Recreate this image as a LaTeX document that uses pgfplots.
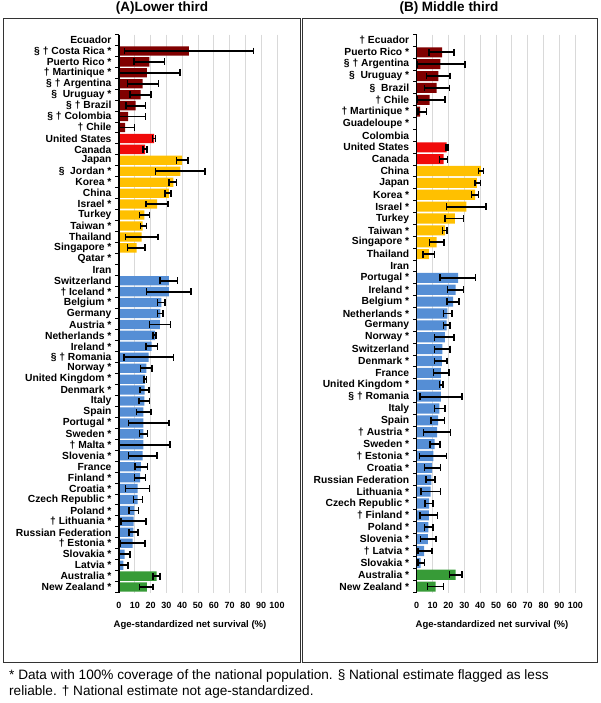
\documentclass[border=0pt]{standalone}
\usepackage{fontspec}
\setmainfont{Liberation Sans}
\usepackage{pgfplots}
\usepackage{pgfplotstable}
\pgfplotsset{compat=1.18}
\definecolor{cdr}{RGB}{128,0,0}
\definecolor{cred}{RGB}{240,10,10}
\definecolor{cyel}{RGB}{255,192,0}
\definecolor{cblue}{RGB}{85,142,213}
\definecolor{cgreen}{RGB}{55,155,55}
\definecolor{cgrid}{RGB}{217,217,217}

% Lower third (A)
\pgfplotstableread{
p v lo hi
2 44.3 3.4 85.0
3 19.2 9.5 28.7
4 17.7 0.0 38.6
5 15.0 5.3 25.1
6 13.7 7.0 20.3
7 10.5 4.4 16.7
8 5.7 0.0 16.7
9 3.8 0.0 9.9
}\tLdr
\pgfplotstableread{
p v lo hi
10 22.2 21.1 23.0
11 16.5 15.0 17.7
}\tLred
\pgfplotstableread{
p v lo hi
12 39.9 36.5 43.5
13 38.8 23.0 54.6
14 34.4 31.6 36.5
15 31.6 29.1 33.0
16 24.1 16.9 31.0
17 16.0 12.9 19.2
18 15.0 13.7 17.5
19 14.3 4.0 24.5
20 11.2 5.5 16.5
}\tLyel
\pgfplotstableread{
p v lo hi
23 31.6 25.9 37.1
24 31.6 17.5 45.4
25 26.8 24.3 29.3
26 26.2 24.3 27.8
27 25.9 19.2 32.5
28 22.8 21.5 23.6
29 20.7 17.1 24.3
30 18.8 3.0 34.6
31 17.3 13.7 21.0
32 16.5 15.8 17.3
33 16.2 13.3 18.8
34 16.0 12.7 19.4
35 15.4 11.2 20.3
36 15.4 6.1 31.8
37 15.4 12.9 18.1
38 15.4 0.0 32.1
39 15.0 6.1 24.1
40 13.9 10.1 18.1
41 13.3 9.7 16.7
42 11.8 4.2 19.2
43 11.8 9.3 14.8
44 9.7 6.3 12.4
45 9.3 1.1 16.9
46 9.1 6.3 12.0
47 8.6 0.8 16.5
48 3.6 0.0 7.0
49 2.7 0.4 5.7
}\tLblue
\pgfplotstableread{
p v lo hi
50 23.8 21.5 25.9
51 17.7 12.9 21.5
}\tLgreen

% Middle third (B)
\pgfplotstableread{
p v lo hi
2 16.0 7.6 23.7
3 14.9 0.4 30.3
4 13.7 6.3 21.0
5 12.6 4.8 20.6
6 8.2 0.4 17.9
7 2.1 1.0 6.3
}\tRdr
\pgfplotstableread{
p v lo hi
10 18.9 18.3 19.8
11 17.0 14.3 19.5
}\tRred
\pgfplotstableread{
p v lo hi
12 40.4 38.9 42.0
13 38.0 36.8 40.1
14 36.8 34.5 38.9
15 31.3 18.9 43.7
16 24.0 17.9 29.6
17 17.9 16.2 19.1
18 12.6 8.0 17.2
19 7.6 3.8 11.1
}\tRyel
\pgfplotstableread{
p v lo hi
21 26.1 14.7 37.0
22 24.6 19.3 29.6
23 22.9 19.1 26.5
24 19.3 17.0 22.1
25 18.9 16.8 21.0
26 17.7 11.1 23.7
27 16.2 11.1 21.0
28 15.8 11.3 19.1
29 15.3 10.5 20.4
30 15.3 14.3 16.4
31 15.3 2.1 28.4
32 14.3 11.1 17.7
33 13.5 9.0 17.4
34 12.8 4.2 21.4
35 11.3 8.4 14.7
36 10.5 1.7 18.9
37 9.7 4.8 14.9
38 9.2 5.9 11.6
39 8.8 2.7 14.9
40 7.8 5.3 10.3
41 7.6 2.1 13.0
42 7.4 5.0 10.1
43 7.1 2.5 12.0
44 4.6 1.0 9.5
45 2.5 1.0 5.0
}\tRblue
\pgfplotstableread{
p v lo hi
46 24.6 20.8 28.4
47 12.0 6.9 17.0
}\tRgreen

\pgfplotsset{
  survaxis/.style={
    scale only axis,
    height=558pt,
    xmin=0, xmax=100,
    y dir=reverse,
    axis line style={draw=none},
    xtick={0,10,...,100},
    xtick pos=bottom, ytick pos=left,
    major tick length=0pt,
    minor tick length=3.5pt,
    tick align=outside,
    minor tick style={line width=1pt, black},
    xmajorgrids,
    major x grid style={draw=cgrid, line width=1pt},
    /pgf/number format/assume math mode=true,
    xticklabel style={font=\bfseries\fontsize{9}{9}\selectfont, yshift=-6pt},
    yticklabel style={font=\bfseries\fontsize{10.3}{10.3}\selectfont, xshift=-4pt},
    clip=false,
  },
  survbar/.style={
    xbar, bar shift=0pt, bar width=0.85, draw=none, fill=#1,
    error bars/.cd, x dir=both, x explicit,
    error mark=|,
    error bar style={draw=black, line width=1.8pt, solid},
    error mark options={draw=black, line width=1.6pt, mark size=3.4pt, solid},
  },
}

\begin{document}
\begin{tikzpicture}[x=1pt,y=1pt]
\path[use as bounding box] (0,0) rectangle (600,-703);
\draw[line width=1pt, black!80] (3,-19) rectangle (300,-662);
\draw[line width=1pt, black!80] (302,-19) rectangle (597,-662);
\node at (162,-8) {\bfseries\fontsize{13.5}{14}\selectfont (A)Lower third};
\node at (449,-8) {\bfseries\fontsize{13.5}{14}\selectfont (B) Middle third};

\begin{axis}[survaxis,
  at={(119pt,-592.5pt)}, anchor=south west,
  width=158pt,
  ymin=0.5, ymax=51.5,
  ytick={1,...,51},
  minor ytick={0.5,1.5,...,51.5},
  yticklabels={{Ecuador},{§ † Costa Rica *},{Puerto Rico *},{† Martinique *},{§ † Argentina},{§\ \ Uruguay *},{§ † Brazil},{§ † Colombia},{† Chile},{United States},{Canada},{Japan},{§\ \ Jordan *},{Korea *},{China},{Israel *},{Turkey},{Taiwan *},{Thailand},{Singapore *},{Qatar *},{Iran},{Switzerland},{† Iceland *},{Belgium *},{Germany},{Austria *},{Netherlands *},{Ireland *},{§ † Romania},{Norway *},{United Kingdom *},{Denmark *},{Italy},{Spain},{Portugal *},{Sweden *},{† Malta *},{Slovenia *},{France},{Finland *},{Croatia *},{Czech Republic *},{Poland *},{† Lithuania *},{Russian Federation},{† Estonia *},{Slovakia *},{Latvia *},{Australia *},{New Zealand *}},
]
\addplot[survbar=cdr] table[x=v, y=p, x error minus expr=\thisrow{v}-\thisrow{lo}, x error plus expr=\thisrow{hi}-\thisrow{v}] {\tLdr};
\addplot[survbar=cred] table[x=v, y=p, x error minus expr=\thisrow{v}-\thisrow{lo}, x error plus expr=\thisrow{hi}-\thisrow{v}] {\tLred};
\addplot[survbar=cyel] table[x=v, y=p, x error minus expr=\thisrow{v}-\thisrow{lo}, x error plus expr=\thisrow{hi}-\thisrow{v}] {\tLyel};
\addplot[survbar=cblue] table[x=v, y=p, x error minus expr=\thisrow{v}-\thisrow{lo}, x error plus expr=\thisrow{hi}-\thisrow{v}] {\tLblue};
\addplot[survbar=cgreen] table[x=v, y=p, x error minus expr=\thisrow{v}-\thisrow{lo}, x error plus expr=\thisrow{hi}-\thisrow{v}] {\tLgreen};
\draw[line width=1.2pt] (rel axis cs:0,0) -- (rel axis cs:0,1);
\end{axis}

\begin{axis}[survaxis,
  at={(416.7pt,-592.5pt)}, anchor=south west,
  width=158.6pt,
  ymin=0.5, ymax=47.5,
  ytick={1,...,47},
  minor ytick={0.5,1.5,...,47.5},
  yticklabels={{† Ecuador},{Puerto Rico *},{§ † Argentina},{§\ \ Uruguay *},{§\ \ Brazil},{† Chile},{† Martinique *},{Guadeloupe *},{Colombia},{United States},{Canada},{China},{Japan},{Korea *},{Israel *},{Turkey},{Taiwan *},{Singapore *},{Thailand},{Iran},{Portugal *},{Ireland *},{Belgium *},{Netherlands *},{Germany},{Norway *},{Switzerland},{Denmark *},{France},{United Kingdom *},{§ † Romania},{Italy},{Spain},{† Austria *},{Sweden *},{† Estonia *},{Croatia *},{Russian Federation},{Lithuania *},{Czech Republic *},{† Finland *},{Poland *},{Slovenia *},{† Latvia *},{Slovakia *},{Australia *},{New Zealand *}},
]
\addplot[survbar=cdr] table[x=v, y=p, x error minus expr=\thisrow{v}-\thisrow{lo}, x error plus expr=\thisrow{hi}-\thisrow{v}] {\tRdr};
\addplot[survbar=cred] table[x=v, y=p, x error minus expr=\thisrow{v}-\thisrow{lo}, x error plus expr=\thisrow{hi}-\thisrow{v}] {\tRred};
\addplot[survbar=cyel] table[x=v, y=p, x error minus expr=\thisrow{v}-\thisrow{lo}, x error plus expr=\thisrow{hi}-\thisrow{v}] {\tRyel};
\addplot[survbar=cblue] table[x=v, y=p, x error minus expr=\thisrow{v}-\thisrow{lo}, x error plus expr=\thisrow{hi}-\thisrow{v}] {\tRblue};
\addplot[survbar=cgreen] table[x=v, y=p, x error minus expr=\thisrow{v}-\thisrow{lo}, x error plus expr=\thisrow{hi}-\thisrow{v}] {\tRgreen};
\draw[line width=1.2pt] (rel axis cs:0,0) -- (rel axis cs:0,1);
\end{axis}

\node[font=\bfseries\fontsize{9.5}{10}\selectfont] at (190,-625) {Age-standardized net survival (\%)};
\node[font=\bfseries\fontsize{9.5}{10}\selectfont] at (492,-625) {Age-standardized net survival (\%)};
\node[anchor=north west, align=left, inner sep=0pt, font=\fontsize{13.6}{16}\selectfont] at (9,-669)
  {* Data with 100\% coverage of the national population. § National estimate flagged as less\\reliable. † National estimate not age-standardized.};
\end{tikzpicture}
\end{document}
